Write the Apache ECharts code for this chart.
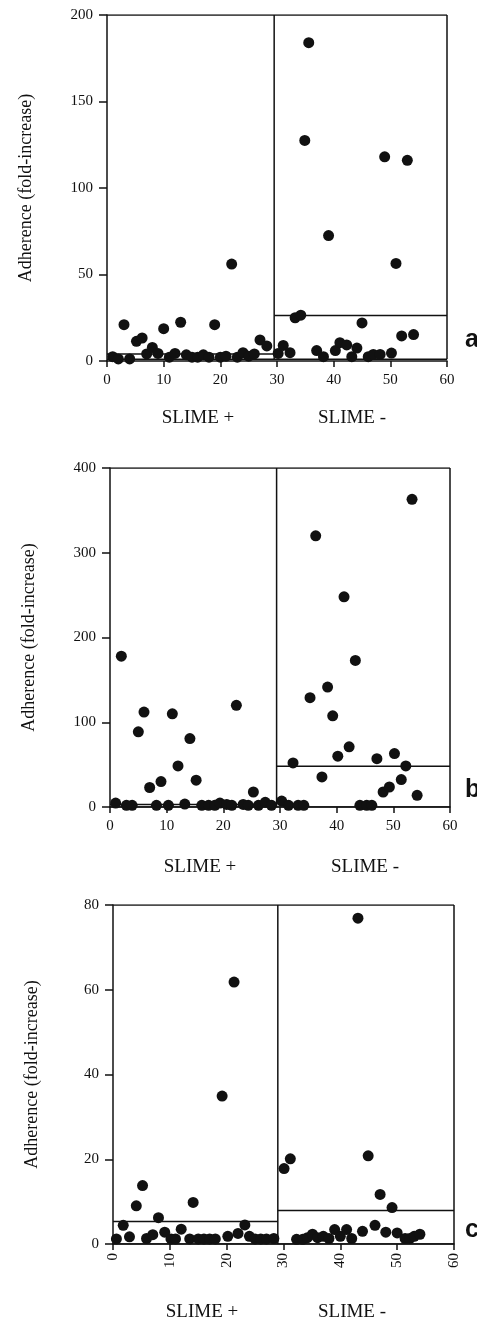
<!DOCTYPE html>
<html>
<head>
<meta charset="utf-8">
<script src="https://cdn.jsdelivr.net/npm/echarts@6/dist/echarts.min.js"></script>
<style>html,body{margin:0;padding:0;background:#fff;}#c{width:477px;height:1321px;}</style>
</head>
<body>
<div id="c"></div>
<script>
// ---- Panel a ----
const aPlusX  = [1,2,3,4,5.2,6.2,7,8,9,10,11,12,13,14,15,16,17,18,19,20,21,22,23,24,25,26,27,28.2];
const aPlusY  = [2.5,1.2,21,1.2,11.4,13.3,4.1,7.8,4.4,18.7,2.2,4.4,22.4,3.6,2.2,2.2,3.6,2.2,21,2.2,2.8,56,2.2,4.8,2.8,4.1,12.2,8.7];
const aMinusX = [30.2,31.1,32.3,33.2,34.2,34.9,35.6,37,38.2,39.1,40.3,41.1,42.3,43.2,44.1,45,46.1,47,48.2,49,50.2,51,52,53,54.1];
const aMinusY = [4.4,9,4.8,25,26.5,127.5,184,6,2.5,72.5,6,10.6,9.3,2.5,7.5,22,2.5,3.8,3.8,118,4.6,56.4,14.5,116,15.3];
// ---- Panel b ----
const bPlusX  = [1,2,2.9,3.9,5,6,7,8.2,9,10.3,11,12,13.2,14.1,15.2,16.2,17.4,18.5,19.4,20.6,21.5,22.3,23.5,24.4,25.3,26.2,27.4,28.5];
const bPlusY  = [4.7,178,2,2,88.7,112,23,2,30,2,110,48.5,3.5,80.8,31.6,2,2,2,4.7,3,2,120,3,2,17.7,2,5.5,2];
const bMinusX = [30.3,31.5,32.3,33.2,34.2,35.3,36.3,37.4,38.4,39.3,40.2,41.3,42.2,43.3,44.1,45.3,46.2,47.1,48.2,49.3,50.2,51.4,52.2,53.3,54.2];
const bMinusY = [7,2,52,2,2,129,320,35.5,141.5,107.6,60,248,71,173,2,2,2,57,17.7,23.6,63,32.4,48.5,363,13.8];
// ---- Panel c ----
const cPlusX  = [0.6,1.8,2.9,4.1,5.2,5.9,7,8,9.1,10.2,11,12,13.5,14.1,15,16,17,18,19.2,20.2,21.3,22,23.2,24,25,26,27,28.3];
const cPlusY  = [1.2,4.4,1.7,9,13.8,1.3,2.2,6.2,2.8,1.2,1.2,3.5,1.2,9.8,1.2,1.2,1.2,1.2,34.9,1.8,61.8,2.5,4.5,1.8,1.2,1.2,1.2,1.3];
const cMinusX = [30.1,31.2,32.3,33.4,34.2,35.1,36,37,38,39,40,41.1,42,43.1,43.9,44.9,46.1,47,48,49.1,50,51.4,52.2,53,54];
const cMinusY = [17.8,20.1,1.1,1.1,1.5,2.3,1.5,1.8,1.3,3.4,1.8,3.4,1.3,76.9,3,20.8,4.4,11.7,2.8,8.6,2.6,1.3,1.3,1.8,2.3];

// frame / reference line values per panel
const yMaxes     = [200, 400, 80];
const yIntervals = [50, 100, 20];
const boxBottoms = [1, 0, 0];
const dividers   = [29.5, 29.4, 29];
const meanPlus   = [4, 3, 5.3];
const meanMinus  = [26.3, 48, 7.9];
const xTicks     = [0, 60, 10];
const panelLetters = ['a','b','c'];
const yTitle = 'Adherence (fold-increase)';
const groupLabels = ['SLIME +', 'SLIME -'];

const plusX = [aPlusX, bPlusX, cPlusX], plusY = [aPlusY, bPlusY, cPlusY];
const minusX = [aMinusX, bMinusX, cMinusX], minusY = [aMinusY, bMinusY, cMinusY];

const grids = [
  {left:107, width:340, top:15,  height:346},
  {left:110, width:340, top:468, height:339},
  {left:113, width:341, top:905, height:339}
];
const SERIF = '"Liberation Serif","Times New Roman",serif';
const INK = '#111';

const xAxes = [], yAxes = [], series = [];
function zip(xs, ys){ return xs.map((x,i)=>[x, ys[i]]); }
function seg(i, pts){
  series.push({type:'line', xAxisIndex:i, yAxisIndex:i, data:pts, symbol:'none', silent:true,
    lineStyle:{color:INK, width:1.5}, z:2, animation:false});
}
for (let i=0;i<3;i++){
  xAxes.push({type:'value', gridIndex:i, min:xTicks[0], max:xTicks[1], interval:xTicks[2],
    axisLine:{show:true, lineStyle:{color:INK, width:1.5}},
    axisTick:{show:true, length:6, lineStyle:{color:INK, width:1.5}},
    axisLabel:{color:INK, fontFamily:SERIF, fontSize:15, margin: i===2 ? 9 : 12, rotate: i===2 ? 90 : 0},
    splitLine:{show:false}});
  yAxes.push({type:'value', gridIndex:i, min:0, max:yMaxes[i], interval:yIntervals[i],
    name: yTitle, nameLocation:'middle', nameGap:72, nameRotate:90,
    nameTextStyle:{color:INK, fontFamily:SERIF, fontSize:18},
    axisLine:{show:true, lineStyle:{color:INK, width:1.5}},
    axisTick:{show:true, length:8, lineStyle:{color:INK, width:1.5}},
    axisLabel:{color:INK, fontFamily:SERIF, fontSize:15, margin:14},
    splitLine:{show:false}});
  const top = yMaxes[i], bot = boxBottoms[i], d = dividers[i];
  seg(i, [[0,top],[60,top]]);
  seg(i, [[60,top],[60,bot]]);
  seg(i, [[0,bot],[60,bot]]);
  seg(i, [[d,bot],[d,top]]);
  seg(i, [[0,meanPlus[i]],[d,meanPlus[i]]]);
  seg(i, [[d,meanMinus[i]],[60,meanMinus[i]]]);
  series.push({type:'scatter', xAxisIndex:i, yAxisIndex:i, data:zip(plusX[i], plusY[i]),
    symbolSize:11, itemStyle:{color:INK, opacity:1}, z:5, animation:false});
  series.push({type:'scatter', xAxisIndex:i, yAxisIndex:i, data:zip(minusX[i], minusY[i]),
    symbolSize:11, itemStyle:{color:INK, opacity:1}, z:5, animation:false});
}

const labelPos = [
  {plus:198, minus:352, y:418, letterY:340},
  {plus:200, minus:365, y:867, letterY:790},
  {plus:202, minus:352, y:1312, letterY:1230}
];
const graphics = [];
labelPos.forEach((p,i)=>{
  graphics.push({type:'text', x:p.plus, y:p.y, style:{text:groupLabels[0], fill:INK, font:'19px '+SERIF, textAlign:'center', textVerticalAlign:'middle'}});
  graphics.push({type:'text', x:p.minus, y:p.y, style:{text:groupLabels[1], fill:INK, font:'19px '+SERIF, textAlign:'center', textVerticalAlign:'middle'}});
  graphics.push({type:'text', x:465, y:p.letterY, style:{text:panelLetters[i], fill:INK, font:'bold 25px "Liberation Sans", Arial, sans-serif', textAlign:'left', textVerticalAlign:'middle'}});
});

const chart = echarts.init(document.getElementById('c'), null, {renderer:'canvas'});
chart.setOption({
  animation:false,
  backgroundColor:'#fff',
  grid: grids,
  xAxis: xAxes,
  yAxis: yAxes,
  series: series,
  graphic: graphics
});
</script>
</body>
</html>
